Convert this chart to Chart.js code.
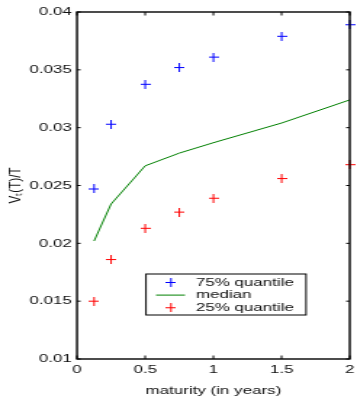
<!DOCTYPE html>
<html>
<head>
<meta charset="utf-8">
<script src="https://cdn.jsdelivr.net/npm/chart.js@4/dist/chart.umd.min.js"></script>
<style>
    html, body { margin: 0; padding: 0; background: #fff; overflow: hidden; }
    /* the original picture is stretched sideways, so the chart is drawn narrow and widened */
    #wrap { width: 246px; height: 399px; transform: scaleX(1.4512); transform-origin: 0 0; }
</style>
</head>
<body>
<div id="wrap"><canvas id="volChart"></canvas></div>
<script>
const maturity = [0.125, 0.25, 0.5, 0.75, 1, 1.5, 2];
const quantile75 = [0.0247, 0.0303, 0.03375, 0.0352, 0.0361, 0.0379, 0.0389];
const medianVals = [0.0202, 0.0234, 0.0267, 0.0278, 0.0287, 0.0304, 0.0324];
const quantile25 = [0.0150, 0.0186, 0.0213, 0.0227, 0.0239, 0.0256, 0.0268];
const xTickLabels = ["0", "0.5", "1", "1.5", "2"];
const yTickLabels = ["0.01", "0.015", "0.02", "0.025", "0.03", "0.035", "0.04"];
const seriesNames = ["75% quantile", "median", "25% quantile"];

Chart.defaults.color = "#111";
Chart.defaults.font.family = "Arial, 'Liberation Sans', sans-serif";
Chart.defaults.font.size = 11.7;

// plus marker, narrow because the canvas gets widened
function makePlus(color) {
    const c = document.createElement("canvas");
    c.width = 7;
    c.height = 9;
    const g = c.getContext("2d");
    g.fillStyle = color;
    g.fillRect(3, 0, 1, 9);
    g.fillRect(0, 4, 7, 1);
    return c;
}
const bluePlus = makePlus("#0000ff");
const redPlus = makePlus("#ff0000");

const toPoints = vals => maturity.map((m, i) => ({ x: m, y: vals[i] }));

const frameAndTicks = {
    id: "frameAndTicks",
    afterDatasetsDraw(chart) {
        const { ctx, chartArea: a, scales } = chart;
        ctx.save();
        ctx.strokeStyle = "#000";
        ctx.lineWidth = 1;
        scales.x.ticks.forEach(t => {
            const px = scales.x.getPixelForValue(t.value);
            ctx.beginPath();
            ctx.moveTo(px, a.bottom); ctx.lineTo(px, a.bottom - 3.5);
            ctx.moveTo(px, a.top); ctx.lineTo(px, a.top + 3.5);
            ctx.stroke();
        });
        scales.y.ticks.forEach(t => {
            const py = scales.y.getPixelForValue(t.value);
            ctx.beginPath();
            ctx.moveTo(a.left, py); ctx.lineTo(a.left + 2.5, py);
            ctx.moveTo(a.right, py); ctx.lineTo(a.right - 2.5, py);
            ctx.stroke();
        });
        ctx.lineWidth = 1.4;
        ctx.strokeRect(a.left, a.top, a.right - a.left, a.bottom - a.top);
        ctx.restore();
    }
};

const boxLegend = {
    id: "boxLegend",
    afterDraw(chart) {
        const { ctx } = chart;
        const left = 100.6, top = 274, right = 210.9, bottom = 315;
        ctx.save();
        ctx.fillStyle = "#fff";
        ctx.fillRect(left, top, right - left, bottom - top);
        ctx.strokeStyle = "#000";
        ctx.lineWidth = 1;
        ctx.strokeRect(left, top, right - left, bottom - top);
        ctx.font = "11.7px Arial, 'Liberation Sans', sans-serif";
        ctx.textBaseline = "middle";
        chart.data.datasets.forEach((ds, i) => {
            const y = 282.5 + i * 12.6;
            if (ds.showLine) {
                ctx.strokeStyle = ds.borderColor;
                ctx.lineWidth = 1;
                ctx.beginPath();
                ctx.moveTo(107.5, y); ctx.lineTo(127.5, y);
                ctx.stroke();
            } else {
                ctx.drawImage(ds.pointStyle, 117.8 - 3.5, y - 4.5);
            }
            ctx.fillStyle = "#111";
            ctx.fillText(ds.label, 134.9, y);
        });
        ctx.restore();
    }
};

const ctx = document.getElementById("volChart").getContext("2d");
new Chart(ctx, {
    type: "scatter",
    data: {
        datasets: [{
            label: seriesNames[0],
            data: toPoints(quantile75),
            pointStyle: bluePlus,
            showLine: false,
            clip: false
        }, {
            label: seriesNames[1],
            data: toPoints(medianVals),
            showLine: true,
            borderColor: "#008000",
            borderWidth: 1,
            pointRadius: 0,
            clip: false
        }, {
            label: seriesNames[2],
            data: toPoints(quantile25),
            pointStyle: redPlus,
            showLine: false,
            clip: false
        }]
    },
    options: {
        responsive: true,
        maintainAspectRatio: false,
        animation: false,
        events: [],
        layout: { padding: { top: 12, right: 3.2, left: 0, bottom: 0 } },
        plugins: { legend: { display: false }, tooltip: { enabled: false } },
        scales: {
            x: {
                type: "linear",
                min: 0,
                max: 2,
                grid: { display: false, drawTicks: false },
                border: { display: false },
                ticks: {
                    stepSize: 0.5,
                    padding: 4,
                    maxRotation: 0,
                    callback: (v, i) => xTickLabels[i]
                },
                title: {
                    display: true,
                    text: "maturity (in years)",
                    padding: { top: 0, bottom: 1.5 },
                    font: { size: 11.7, lineHeight: 1.2 }
                },
                afterFit(scale) {
                    scale.height = 40;
                    scale.paddingLeft = 0;
                    scale.paddingRight = 0;
                }
            },
            y: {
                min: 0.01,
                max: 0.04,
                grid: { display: false, drawTicks: false },
                border: { display: false },
                ticks: {
                    stepSize: 0.005,
                    padding: 3.6,
                    callback: (v, i) => yTickLabels[i]
                },
                title: {
                    display: true,
                    text: "V\u209C(T)/T",
                    padding: { top: 3.3, bottom: 0 },
                    font: { size: 11.7, lineHeight: 1.2 }
                },
                afterFit(scale) {
                    scale.width = 53.06;
                    scale.paddingTop = 0;
                    scale.paddingBottom = 0;
                }
            }
        }
    },
    plugins: [frameAndTicks, boxLegend]
});
</script>
</body>
</html>
